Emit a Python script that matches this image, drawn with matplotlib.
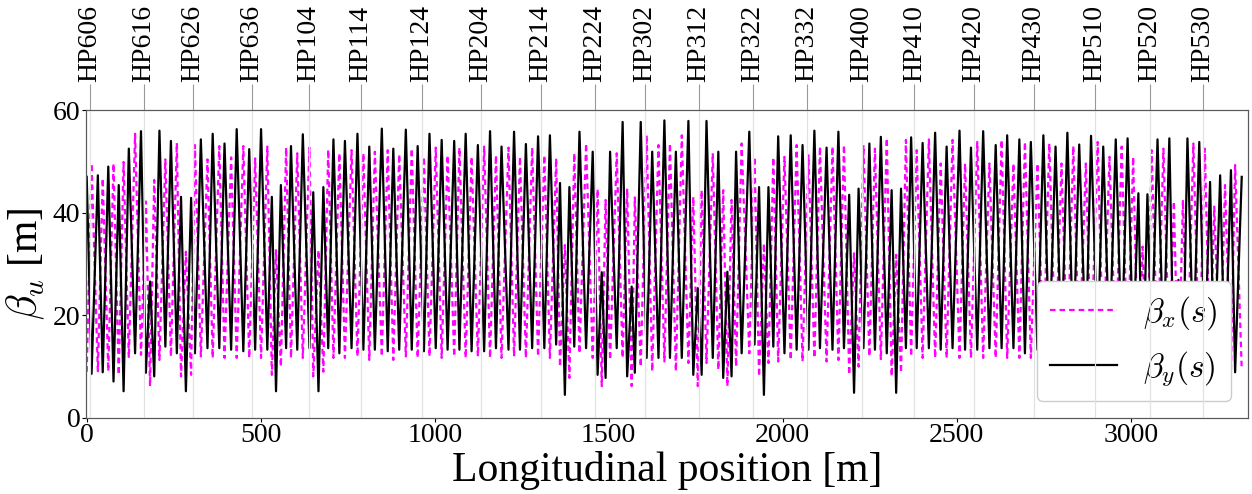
import matplotlib
matplotlib.use('Agg')
import matplotlib.pyplot as plt

plt.rcParams['font.family'] = 'serif'
plt.rcParams['font.serif'] = ['Liberation Serif', 'DejaVu Serif']
plt.rcParams['mathtext.fontset'] = 'cm'

s_quad = [0, 14, 32, 46, 62, 77, 92, 106, 121, 139, 156, 170, 182, 194, 209, 226, 242, 259, 271, 285,
          300, 311, 328, 347, 362, 381, 396, 415, 431, 450, 467, 484, 501, 519, 532, 544, 558, 573, 587, 605,
          621, 640, 651, 666, 680, 694, 709, 726, 742, 761, 778, 795, 812, 828, 848, 865, 881, 898, 917, 934,
          951, 969, 985, 1003, 1020, 1037, 1056, 1071, 1089, 1106, 1124, 1142, 1159, 1176, 1192, 1212, 1228, 1245, 1262, 1280,
          1297, 1315, 1331, 1349, 1360, 1374, 1387, 1401, 1416, 1435, 1454, 1468, 1480, 1491, 1504, 1523, 1540, 1553, 1566, 1575,
          1592, 1609, 1625, 1643, 1660, 1676, 1693, 1710, 1729, 1743, 1756, 1767, 1781, 1799, 1815, 1829, 1841, 1853, 1866, 1882,
          1904, 1919, 1932, 1946, 1959, 1973, 1987, 2005, 2023, 2040, 2057, 2074, 2091, 2107, 2126, 2143, 2160, 2176, 2191, 2205,
          2218, 2232, 2249, 2265, 2282, 2299, 2313, 2326, 2340, 2354, 2369, 2385, 2402, 2420, 2438, 2454, 2471, 2488, 2508, 2524,
          2541, 2559, 2576, 2594, 2612, 2629, 2645, 2663, 2680, 2696, 2713, 2732, 2749, 2766, 2784, 2801, 2818, 2835, 2852, 2871,
          2886, 2905, 2921, 2939, 2957, 2974, 2991, 3007, 3022, 3034, 3048, 3060, 3077, 3094, 3111, 3124, 3137, 3150, 3163, 3180,
          3197, 3213, 3228, 3240, 3257, 3271, 3288, 3300, 3319]

beta_x = [9.0, 49.6, 9.1, 46.7, 9.1, 49.6, 8.4, 49.9, 11.7, 55.4, 12.3, 42.2, 6.2, 46.4, 11.3, 50.4, 12.0, 53.6, 8.1, 32.4,
          8.4, 53.2, 12.0, 50.4, 11.7, 53.0, 11.7, 50.8, 11.7, 53.0, 11.7, 50.6, 11.7, 52.9, 8.4, 32.7, 10.0, 52.7, 11.7, 51.6,
          11.7, 52.7, 8.1, 32.7, 9.0, 52.3, 11.7, 51.6, 11.7, 52.2, 12.0, 51.6, 11.3, 51.9, 12.0, 52.2, 11.3, 51.4, 12.0, 52.5,
          11.7, 50.9, 12.0, 52.7, 11.7, 51.2, 12.0, 52.7, 11.7, 50.9, 12.0, 52.9, 11.7, 51.2, 11.7, 52.7, 12.0, 50.9, 11.7, 52.7,
          12.0, 51.2, 11.7, 50.6, 10.0, 33.7, 7.8, 51.6, 12.6, 53.5, 11.7, 44.6, 6.2, 42.5, 11.3, 51.6, 11.7, 44.7, 6.2, 43.0,
          10.0, 55.1, 9.1, 53.2, 11.0, 53.5, 9.1, 55.1, 10.7, 43.1, 6.2, 44.4, 10.7, 51.6, 9.4, 44.4, 6.2, 42.5, 10.0, 53.5,
          12.6, 50.9, 8.1, 34.0, 10.7, 50.8, 11.0, 50.9, 11.3, 53.2, 11.0, 51.2, 11.7, 52.9, 11.0, 52.9, 11.3, 53.2, 8.4, 32.1,
          10.0, 53.2, 12.0, 52.5, 11.3, 54.5, 8.1, 31.8, 8.8, 54.2, 12.0, 52.2, 11.7, 54.3, 11.7, 49.6, 11.7, 54.2, 11.7, 49.6,
          11.7, 53.8, 11.7, 49.6, 11.7, 54.2, 11.7, 49.6, 11.7, 53.8, 11.7, 49.6, 11.7, 53.5, 11.7, 49.6, 11.7, 53.0, 11.7, 49.6,
          11.7, 53.8, 11.7, 50.9, 11.7, 52.9, 11.3, 50.9, 8.4, 33.4, 8.1, 52.2, 11.7, 52.5, 11.3, 42.2, 6.2, 42.5, 11.3, 53.5,
          10.7, 52.5, 10.0, 41.2, 9.4, 45.4, 9.1, 49.3, 9.4]

beta_y = [47.0, 8.6, 47.3, 8.9, 49.0, 7.1, 45.4, 5.2, 52.5, 12.6, 55.9, 8.8, 26.6, 8.1, 56.0, 13.9, 54.0, 12.6, 43.1, 5.2,
          42.9, 12.6, 54.3, 13.6, 55.4, 13.6, 53.5, 13.3, 56.3, 13.0, 52.4, 13.3, 56.3, 13.3, 43.1, 5.2, 45.4, 13.6, 53.0, 13.3,
          55.3, 13.6, 44.0, 5.2, 45.0, 13.6, 54.3, 12.6, 54.0, 13.6, 55.4, 13.3, 52.9, 13.3, 56.4, 13.0, 52.5, 13.3, 56.2, 13.3,
          53.0, 13.0, 55.4, 13.6, 54.2, 13.3, 54.0, 13.3, 55.4, 13.0, 53.2, 13.0, 55.9, 13.6, 52.9, 13.3, 55.8, 13.3, 53.4, 13.6,
          54.9, 13.6, 55.1, 14.3, 45.8, 4.5, 45.0, 13.9, 55.8, 13.6, 51.9, 8.4, 28.4, 7.8, 51.9, 13.6, 57.7, 8.1, 25.6, 8.8,
          57.7, 11.7, 51.9, 11.7, 58.0, 11.7, 51.9, 11.7, 57.9, 8.4, 25.3, 8.4, 57.9, 11.7, 51.9, 7.8, 28.5, 8.1, 51.9, 12.6,
          55.8, 14.3, 45.0, 4.5, 45.0, 13.9, 54.9, 12.6, 55.1, 13.3, 53.2, 13.3, 56.0, 13.6, 52.7, 13.3, 55.8, 13.6, 43.5, 4.9,
          44.7, 13.6, 53.5, 13.3, 54.8, 12.6, 44.4, 4.9, 44.7, 13.6, 54.7, 13.6, 53.6, 13.6, 55.6, 13.3, 52.9, 13.6, 56.0, 13.3,
          52.7, 13.3, 55.9, 13.6, 53.2, 13.6, 55.1, 13.6, 54.3, 12.6, 53.8, 13.3, 55.1, 13.3, 52.9, 13.3, 55.6, 13.3, 53.3, 13.3,
          55.0, 13.3, 52.9, 13.3, 54.3, 13.3, 54.5, 13.6, 43.8, 4.9, 43.6, 13.6, 54.3, 13.3, 54.5, 8.1, 26.9, 8.1, 54.5, 13.3,
          53.8, 12.6, 46.0, 9.1, 47.3, 9.1, 48.3, 8.9, 47.0]

hp_names = ['HP606', 'HP616', 'HP626', 'HP636', 'HP104', 'HP114', 'HP124', 'HP204', 'HP214', 'HP224', 'HP302',
            'HP312', 'HP322', 'HP332', 'HP400', 'HP410', 'HP420', 'HP430', 'HP510', 'HP520', 'HP530']
hp_pos = [9.5, 165, 305, 475, 639, 788, 963, 1133, 1305, 1461, 1604,
          1760, 1915, 2069, 2227, 2378, 2550, 2722, 2897, 3055, 3207]

fig, ax = plt.subplots(figsize=(12.52, 4.94), dpi=100)
fig.subplots_adjust(left=0.0687, right=0.9968, top=0.777, bottom=0.154)

ax.plot(s_quad, beta_x, '--', color='magenta', lw=1.6, dashes=(2.5, 1.8), label=r'$\beta_x(s)$')
ax.plot(s_quad, beta_y, '-', color='black', lw=1.6, label=r'$\beta_y(s)$')

ax.set_xlim(-2, 3337)
ax.set_ylim(0, 60)
ax.set_yticks([0, 20, 40, 60])
ax.set_xticks([0, 500, 1000, 1500, 2000, 2500, 3000])
ax.tick_params(labelsize=20, length=3, pad=1)
ax.set_xlabel('Longitudinal position [m]', fontsize=30, labelpad=2)
ax.set_ylabel(r'$\beta_u$ [m]', fontsize=30, labelpad=4)
for sp in ax.spines.values():
    sp.set_color('0.35')

ax.legend(loc='lower right', fontsize=24, handlelength=2.0, framealpha=1)

# BPM labels on top, their grid is drawn over the main axes
top = ax.twiny()
top.set_xlim(ax.get_xlim())
top.set_xticks(hp_pos)
top.set_xticklabels(hp_names, rotation=90, fontsize=20)
top.tick_params(length=19, color='0.6', pad=1)
top.grid(True, color='#e2e2e2', lw=0.9)
for sp in top.spines.values():
    sp.set_color('0.35')

fig.savefig('out.png', dpi=100)
